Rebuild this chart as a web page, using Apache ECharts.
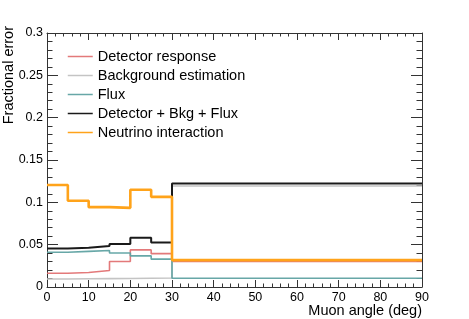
<!DOCTYPE html>
<html>
<head>
<meta charset="utf-8">
<script src="https://cdn.jsdelivr.net/npm/echarts@6/dist/echarts.min.js"></script>
<style>
html,body{margin:0;padding:0;background:#fff;}
#chart{width:469px;height:319px;}
</style>
</head>
<body>
<div id="chart"></div>
<script>
const binEdges = [0, 5, 10, 15, 20, 25, 30, 90];
const xTicks = [0, 10, 20, 30, 40, 50, 60, 70, 80, 90];
const yTicks = [0, 0.05, 0.1, 0.15, 0.2, 0.25, 0.3];
const seriesNames = ['Detector response', 'Background estimation', 'Flux', 'Detector + Bkg + Flux', 'Neutrino interaction'];
const detectorResponse = [0.0162, 0.0172, 0.0195, 0.0302, 0.0438, 0.0394, 0.0303];
const backgroundEstimation = [0.0095, 0.0097, 0.0099, 0.0101, 0.0104, 0.0106, 0.1193];
const flux = [0.0411, 0.0421, 0.0431, 0.0401, 0.0368, 0.0329, 0.0103];
const detBkgFlux = [0.0456, 0.0463, 0.0484, 0.0508, 0.0582, 0.0525, 0.1223];
const neutrinoInteraction = [0.1205, 0.1019, 0.0943, 0.0935, 0.1148, 0.1065, 0.0318];

function histSteps(vals) {
  return binEdges.map((e, i) => [e, vals[Math.min(i, vals.length - 1)]]);
}

const FONT = 'Liberation Sans, Arial, Helvetica, sans-serif';
const axisCol = '#333';

function xAx(pos, showLabel) {
  return {
    type: 'value', position: pos, min: xTicks[0], max: xTicks[xTicks.length - 1], interval: 10,
    axisLine: { show: true, onZero: false, lineStyle: { color: axisCol, width: 1 } },
    axisTick: { show: true, inside: true, length: 7, lineStyle: { color: axisCol } },
    minorTick: { show: true, splitNumber: 5, length: 3.5, lineStyle: { color: axisCol } },
    splitLine: { show: false },
    axisLabel: { show: showLabel, margin: 4, fontSize: 12.5, color: '#000', fontFamily: FONT }
  };
}
function yAx(pos, showLabel) {
  return {
    type: 'value', position: pos, min: yTicks[0], max: yTicks[yTicks.length - 1], interval: 0.05,
    axisLine: { show: true, onZero: false, lineStyle: { color: axisCol, width: 1 } },
    axisTick: { show: true, inside: true, length: 11, lineStyle: { color: axisCol } },
    minorTick: { show: true, splitNumber: 5, length: 5.5, lineStyle: { color: axisCol } },
    splitLine: { show: false },
    axisLabel: { show: showLabel, margin: 4, fontSize: 12.5, color: '#000', fontFamily: FONT,
      formatter: v => String(Math.round(v * 100) / 100) }
  };
}

const styles = [
  { color: '#e06a6c', width: 1.6, opacity: 0.9 },
  { color: '#c4c4c4', width: 1.6, opacity: 1 },
  { color: '#5fa2a2', width: 1.6, opacity: 0.95 },
  { color: '#1a1a1a', width: 2, opacity: 1 },
  { color: '#ffa31a', width: 2.6, opacity: 1 }
];
const allVals = [detectorResponse, backgroundEstimation, flux, detBkgFlux, neutrinoInteraction];

const chart = echarts.init(document.getElementById('chart'), null, { renderer: 'canvas' });
chart.setOption({
  animation: false,
  backgroundColor: '#fff',
  grid: { left: 47, right: 47, top: 33, bottom: 32, containLabel: false },
  xAxis: [xAx('bottom', true), xAx('top', false)],
  yAxis: [yAx('left', true), yAx('right', false)],
  legend: {
    orient: 'vertical', left: 67, top: 49, padding: 0,
    itemWidth: 25, itemHeight: 14, itemGap: 4,
    data: seriesNames,
    textStyle: { fontSize: 14.5, fontFamily: FONT, color: '#000', lineHeight: 14 },
    lineStyle: { width: 1.5 },
    itemStyle: { opacity: 0, borderWidth: 0 }
  },
  graphic: [
    { type: 'text', x: 422, y: 311, style: { text: 'Muon angle (deg)', align: 'right', verticalAlign: 'middle', textAlign: 'right', textVerticalAlign: 'middle', font: '14.5px ' + FONT, fill: '#000' } },
    { type: 'text', x: 9, y: 26, rotation: Math.PI / 2, style: { text: 'Fractional error', align: 'right', verticalAlign: 'middle', textAlign: 'right', textVerticalAlign: 'middle', font: '14.5px ' + FONT, fill: '#000' } }
  ],
  series: seriesNames.map((name, i) => ({
    name: name,
    type: 'line',
    step: 'end',
    xAxisIndex: 0, yAxisIndex: 0,
    symbol: 'none', showSymbol: false,
    color: styles[i].color,
    lineStyle: { color: styles[i].color, width: styles[i].width, opacity: styles[i].opacity },
    data: histSteps(allVals[i]),
    z: 2 + i
  }))
});
</script>
</body>
</html>
